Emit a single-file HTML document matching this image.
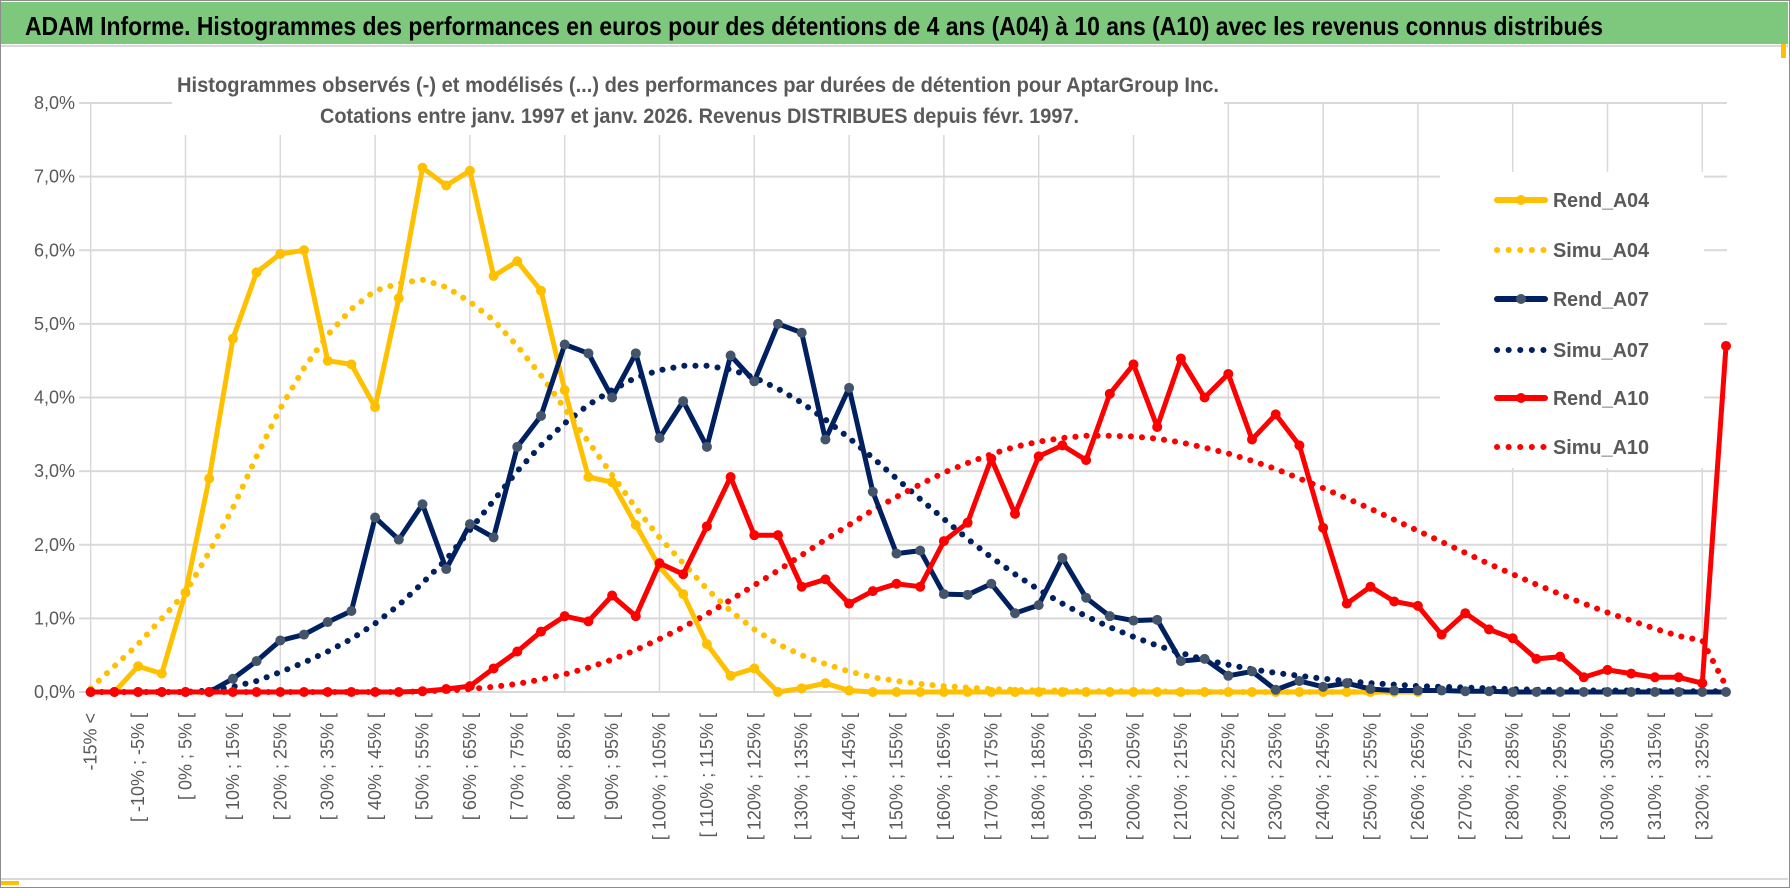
<!DOCTYPE html>
<html><head><meta charset="utf-8">
<style>
html,body{margin:0;padding:0;background:#fff;}
svg{display:block;font-family:"Liberation Sans",sans-serif;}
</style></head>
<body>
<svg id="chart" width="1790" height="888" viewBox="0 0 1790 888" xmlns="http://www.w3.org/2000/svg">
  <rect x="0.5" y="0.5" width="1789" height="887" fill="#fff" stroke="#8c8c8c"/>
  <rect x="1" y="2" width="1787" height="42" fill="#7ec87e"/>
  <line x1="1" y1="46" x2="1788" y2="46" stroke="#d9d9d9" stroke-width="2"/>
  <line x1="1" y1="879" x2="1788" y2="879" stroke="#d9d9d9" stroke-width="2"/>
  <rect x="1" y="881" width="18" height="4" fill="#ffc000"/>
  <rect x="1781" y="44" width="5" height="14" fill="#ffc000"/>
  <text x="25" y="35" font-size="26" font-weight="bold" fill="#000" textLength="1578" lengthAdjust="spacingAndGlyphs">ADAM Informe. Histogrammes des performances en euros pour des détentions de 4 ans (A04) à 10 ans (A10) avec les revenus connus distribués</text>
  <g id="grid"></g>
  <rect x="172" y="60" width="1052" height="75" fill="#fff"/>
  <text x="177" y="92" font-size="21" font-weight="bold" fill="#595959" textLength="1042" lengthAdjust="spacingAndGlyphs">Histogrammes observés (-) et modélisés (...) des performances par durées de détention pour AptarGroup Inc.</text>
  <text x="320" y="123" font-size="21" font-weight="bold" fill="#595959" textLength="759" lengthAdjust="spacingAndGlyphs">Cotations entre janv. 1997 et janv. 2026. Revenus DISTRIBUES depuis févr. 1997.</text>
  <g id="yaxis"></g>
  <g id="xaxis"></g>
  <g id="series"></g>
  <g id="legend"></g>
</svg>
<script>
const rendA04 = [0,0,0.35,0.25,1.35,2.9,4.8,5.7,5.95,6.0,4.5,4.45,3.87,5.35,7.12,6.88,7.08,5.65,5.85,5.45,4.1,2.92,2.85,2.27,1.7,1.33,0.65,0.22,0.32,0,0.05,0.12,0.02,0,0,0,0,0,0,0,0,0,0,0,0,0,0,0,0,0,0,0,0,0,0,0,0];
const simuA04 = [0.05,0.35,0.65,1.0,1.35,1.9,2.5,3.2,3.85,4.4,4.85,5.2,5.45,5.55,5.6,5.5,5.3,5.05,4.7,4.3,3.85,3.4,2.95,2.5,2.1,1.75,1.4,1.1,0.85,0.65,0.5,0.38,0.28,0.2,0.15,0.11,0.08,0.06,0.04,0.03,0.02,0.02,0.01,0.01,0.01,0.01,0,0,0,0,0,0,0,0,0,0];
const rendA07 = [0,0,0,0,0,0,0.18,0.42,0.7,0.78,0.95,1.1,2.37,2.07,2.55,1.67,2.28,2.1,3.33,3.75,4.72,4.6,4.0,4.6,3.45,3.95,3.33,4.57,4.22,5.0,4.88,3.43,4.13,2.72,1.88,1.92,1.33,1.32,1.47,1.07,1.18,1.82,1.28,1.03,0.97,0.98,0.42,0.45,0.22,0.28,0.03,0.15,0.07,0.12,0.04,0.02,0.02,0.02,0.01,0.01,0,0,0,0,0,0,0,0,0,0];
const simuA07 = [0,0,0,0,0,0.02,0.07,0.15,0.27,0.4,0.55,0.72,0.93,1.18,1.48,1.8,2.2,2.6,3.0,3.35,3.65,3.9,4.1,4.27,4.37,4.43,4.43,4.38,4.27,4.12,3.93,3.7,3.45,3.18,2.9,2.62,2.35,2.08,1.83,1.6,1.39,1.2,1.03,0.88,0.75,0.63,0.53,0.44,0.37,0.31,0.26,0.22,0.18,0.15,0.12,0.1,0.08,0.07,0.06,0.05,0.04,0.03,0.03,0.02,0.02,0.02,0.01,0.01,0.01,0.01];
const rendA10 = [0,0,0,0,0,0,0,0,0,0,0,0,0,0,0.01,0.04,0.08,0.32,0.55,0.82,1.03,0.96,1.31,1.03,1.75,1.6,2.25,2.92,2.13,2.13,1.43,1.53,1.2,1.37,1.47,1.43,2.05,2.3,3.17,2.42,3.2,3.35,3.15,4.05,4.45,3.6,4.53,4.0,4.32,3.43,3.77,3.35,2.23,1.2,1.43,1.23,1.17,0.78,1.07,0.85,0.73,0.45,0.48,0.2,0.3,0.25,0.2,0.2,0.12,4.7];
const simuA10 = [0,0,0,0,0,0,0,0,0,0,0,0,0,0,0.01,0.02,0.04,0.07,0.11,0.17,0.24,0.33,0.44,0.57,0.72,0.88,1.06,1.25,1.45,1.65,1.86,2.07,2.27,2.47,2.65,2.82,2.98,3.11,3.23,3.33,3.4,3.45,3.48,3.48,3.47,3.44,3.39,3.32,3.24,3.14,3.03,2.9,2.77,2.63,2.49,2.34,2.19,2.04,1.89,1.74,1.6,1.46,1.33,1.2,1.08,0.97,0.86,0.76,0.7,0.08];
const yTicks = [0,1,2,3,4,5,6,7,8];
const yTickLabels = ["0,0%","1,0%","2,0%","3,0%","4,0%","5,0%","6,0%","7,0%","8,0%"];
const seriesNames = ["Rend_A04","Simu_A04","Rend_A07","Simu_A07","Rend_A10","Simu_A10"];

const NS = "http://www.w3.org/2000/svg";
const NCAT = 70;
const categories = [];
categories.push("-15% <");
for (let k = 0; k < NCAT - 1; k++) {
  const lo = -15 + 5 * k;
  categories.push("[ " + lo + "% ; " + (lo + 5) + "% [");
}
const X0 = 90.7, X1 = 1726, Y0 = 692, YTOP = 103;
function xs(i) { return X0 + i * (X1 - X0) / (NCAT - 1); }
function ys(v) { return Y0 - v * (Y0 - YTOP) / 8; }
function mk(tag, attrs, parent) {
  const e = document.createElementNS(NS, tag);
  for (const k in attrs) e.setAttribute(k, attrs[k]);
  parent.appendChild(e);
  return e;
}

const grid = document.getElementById("grid");
yTicks.forEach(function(t) {
  const l = mk("line", {x1: 79, x2: 1727, y1: ys(t), y2: ys(t), stroke: "#d9d9d9", "stroke-width": 2}, grid);
  
  
});
for (let i = 0; i < NCAT; i += 4) {
  const l = mk("line", {x1: xs(i), x2: xs(i), y1: ys(8), y2: Y0, stroke: "#d9d9d9", "stroke-width": 1.5}, grid);
  
  
}

const yaxis = document.getElementById("yaxis");
yTicks.forEach(function(t, k) {
  const tx = mk("text", {x: 75, y: ys(t) + 6, "text-anchor": "end", "font-size": 18, fill: "#595959"}, yaxis);
  tx.textContent = yTickLabels[k];
  
  
});

const xaxis = document.getElementById("xaxis");
for (let i = 0; i < NCAT; i += 2) {
  const x = xs(i) + 6;
  const tx = mk("text", {x: x, y: 713, transform: "rotate(-90 " + x + " 713)", "text-anchor": "end", "font-size": 18, fill: "#595959"}, xaxis);
  tx.textContent = categories[i];
  
  
}

const series = document.getElementById("series");
function pathOf(arr) {
  let d = "";
  arr.forEach(function(v, i) { d += (i ? "L" : "M") + xs(i).toFixed(1) + " " + ys(v).toFixed(1); });
  return d;
}
function drawSolid(arr, color, mcolor, name) {
  const g = mk("g", {}, series);
  
  
  mk("path", {d: pathOf(arr), fill: "none", stroke: color, "stroke-width": 5, "stroke-linejoin": "round"}, g);
  arr.forEach(function(v, i) {
    const c = mk("circle", {cx: xs(i), cy: ys(v), r: 5, fill: mcolor}, g);
    
    
  });
}
function drawDotted(arr, color, name) {
  const p = mk("path", {d: pathOf(arr), fill: "none", stroke: color, "stroke-width": 6, "stroke-linecap": "round", "stroke-dasharray": "0.1 11"}, series);
  
  
}
drawDotted(simuA04, "#ffc000", "simu-a04-line");
drawDotted(simuA07, "#002060", "simu-a07-line");
drawDotted(simuA10, "#ff0000", "simu-a10-line");
drawSolid(rendA04, "#ffc000", "#ffc000", "rend-a04-line");
drawSolid(rendA07, "#002060", "#44546a", "rend-a07-line");
drawSolid(rendA10, "#ff0000", "#ff0000", "rend-a10-line");

const legend = document.getElementById("legend");
const lbg = mk("rect", {x: 1440, y: 172, width: 264, height: 296, fill: "#fff"}, legend);


const legColors = ["#ffc000","#ffc000","#002060","#002060","#ff0000","#ff0000"];
const legMarker = ["#ffc000",null,"#44546a",null,"#ff0000",null];
const legY = [200,250,299,350,398,447];
seriesNames.forEach(function(n, k) {
  const g = mk("g", {}, legend);
  
  
  const y = legY[k];
  if (legMarker[k]) {
    mk("line", {x1: 1497, x2: 1545, y1: y, y2: y, stroke: legColors[k], "stroke-width": 6, "stroke-linecap": "round"}, g);
    mk("circle", {cx: 1521, cy: y, r: 5, fill: legMarker[k]}, g);
  } else {
    mk("line", {x1: 1497, x2: 1545, y1: y, y2: y, stroke: legColors[k], "stroke-width": 6, "stroke-linecap": "round", "stroke-dasharray": "0.1 11.5"}, g);
  }
  const t = mk("text", {x: 1553, y: y + 7, "font-size": 20, "font-weight": "bold", fill: "#595959", textLength: 96, lengthAdjust: "spacingAndGlyphs"}, g);
  t.textContent = n;
});
</script>
</body></html>
